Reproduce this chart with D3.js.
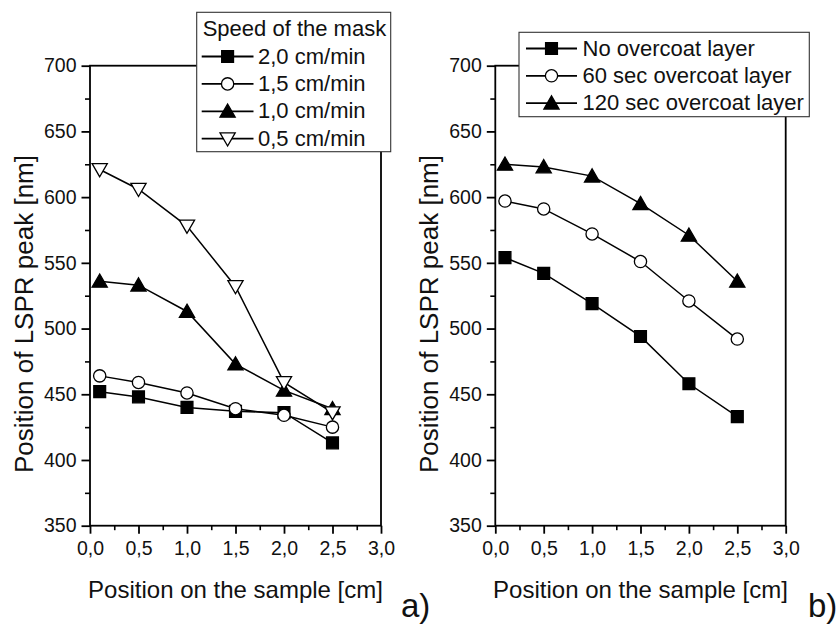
<!DOCTYPE html>
<html>
<head>
<meta charset="utf-8">
<script src="https://cdn.jsdelivr.net/npm/d3@7/dist/d3.min.js"></script>
<style>
  html, body { margin: 0; padding: 0; background: #fff; }
  svg { display: block; font-family: "Liberation Sans", Arial, sans-serif; }
</style>
</head>
<body>
<svg id="chart" width="840" height="627"></svg>
<script>
// ---------- data ----------
const xPositions = [0.1, 0.5, 1.0, 1.5, 2.0, 2.5];
const xTicks = [0, 0.5, 1.0, 1.5, 2.0, 2.5, 3.0];
const xTickLabels = ["0,0", "0,5", "1,0", "1,5", "2,0", "2,5", "3,0"];
const yTicks = [350, 400, 450, 500, 550, 600, 650, 700];

const speedTitle = "Speed of the mask";
const speedLabels = ["2,0 cm/min", "1,5 cm/min", "1,0 cm/min", "0,5 cm/min"];
const speed20 = [452, 448, 440, 437, 436, 413];
const speed15 = [464, 459, 451, 439, 434, 425];
const speed10 = [536, 533, 513, 473, 453, 439];
const speed05 = [621, 606, 578, 532, 459, 436];

const overcoatLabels = ["No overcoat layer", "60 sec overcoat layer", "120 sec overcoat layer"];
const overcoatNone = [554, 542, 519, 494, 458, 433];
const overcoat60 = [597, 591, 572, 551, 521, 492];
const overcoat120 = [625, 623, 616, 595, 571, 536];

const xTitle = "Position on the sample [cm]";
const yTitle = "Position of LSPR peak [nm]";
const panelLabels = ["a)", "b)"];

// ---------- drawing ----------
const svg = d3.select("#chart");
const TOP = 65.7, BOTTOM = 525.7;

const markerDefs = {
  square: { type: d3.symbolSquare, size: 140, fill: "#000", rot: 0, dy: 0 },
  circle: { type: d3.symbolCircle, size: 118, fill: "#fff", rot: 0, dy: 0 },
  triUp:  { type: d3.symbolTriangle, size: 100, fill: "#000", rot: 0, dy: 1.5 },
  triDown:{ type: d3.symbolTriangle, size: 100, fill: "#fff", rot: 180, dy: -1.5 }
};

function drawMarker(g, kind, cx, cy) {
  const m = markerDefs[kind];
  g.append("path")
    .attr("d", d3.symbol().type(m.type).size(m.size)())
    .attr("transform", `translate(${cx},${cy + m.dy}) rotate(${m.rot})`)
    .attr("fill", m.fill)
    .attr("stroke", "#000")
    .attr("stroke-width", 1.3);
}

function drawPanel(opts) {
  const x = d3.scaleLinear().domain([0, 3]).range([opts.left, opts.right]);
  const y = d3.scaleLinear().domain([350, 700]).range([BOTTOM, TOP]);
  const g = svg.append("g");

  // frame
  g.append("rect")
    .attr("x", opts.left).attr("y", TOP)
    .attr("width", opts.right - opts.left).attr("height", BOTTOM - TOP)
    .attr("fill", "none").attr("stroke", "#000").attr("stroke-width", 1.8);

  // x axis
  const xAxis = d3.axisBottom(x).tickValues(xTicks)
    .tickFormat((d, i) => xTickLabels[i]).tickSize(8).tickPadding(7.5);
  const xg = g.append("g").attr("transform", `translate(0,${BOTTOM})`).call(xAxis);
  xg.select(".domain").remove();
  xg.selectAll("line").attr("stroke", "#000").attr("stroke-width", 1.8);
  xg.selectAll("text").attr("font-size", 19.5).attr("fill", "#111")
    .attr("font-family", "Liberation Sans, Arial, sans-serif");
  const xMinor = d3.axisBottom(x).tickValues(d3.range(0.25, 3, 0.5)).tickSize(4.5).tickFormat("");
  const xmg = g.append("g").attr("transform", `translate(0,${BOTTOM})`).call(xMinor);
  xmg.select(".domain").remove();
  xmg.selectAll("line").attr("stroke", "#000").attr("stroke-width", 1.6);

  // y axis
  const yAxis = d3.axisLeft(y).tickValues(yTicks).tickSize(8.5).tickPadding(5);
  const yg = g.append("g").attr("transform", `translate(${opts.left},0)`).call(yAxis);
  yg.select(".domain").remove();
  yg.selectAll("line").attr("stroke", "#000").attr("stroke-width", 1.8);
  yg.selectAll("text").attr("font-size", 19.5).attr("fill", "#111")
    .attr("font-family", "Liberation Sans, Arial, sans-serif");
  const yMinor = d3.axisLeft(y).tickValues(d3.range(375, 700, 50)).tickSize(5).tickFormat("");
  const ymg = g.append("g").attr("transform", `translate(${opts.left},0)`).call(yMinor);
  ymg.select(".domain").remove();
  ymg.selectAll("line").attr("stroke", "#000").attr("stroke-width", 1.6);

  // titles
  g.append("text")
    .attr("x", (opts.left + opts.right) / 2).attr("y", 598)
    .attr("text-anchor", "middle").attr("font-size", 24).attr("fill", "#111")
    .text(xTitle);
  g.append("text")
    .attr("transform", `translate(${opts.left - 57},314) rotate(-90)`)
    .attr("text-anchor", "middle").attr("font-size", 26).attr("fill", "#111")
    .text(yTitle);

  // series
  const line = d3.line().x((d, i) => x(xPositions[i])).y(d => y(d));
  opts.series.forEach(s => {
    g.append("path").datum(s.values)
      .attr("d", line).attr("fill", "none")
      .attr("stroke", "#000").attr("stroke-width", 1.5);
  });
  opts.series.forEach(s => {
    s.values.forEach((v, i) => drawMarker(g, s.marker, x(xPositions[i]), y(v)));
  });

  // legend
  const L = opts.legend;
  const lg = g.append("g");
  lg.append("rect")
    .attr("x", L.x).attr("y", L.y).attr("width", L.w).attr("height", L.h)
    .attr("fill", "#fff").attr("stroke", "#333").attr("stroke-width", 1.1);
  if (L.title) {
    lg.append("text").attr("x", L.x + 6).attr("y", L.titleBase)
      .attr("font-size", 22).attr("fill", "#111").text(L.title);
  }
  opts.series.forEach((s, i) => {
    const base = L.firstBase + i * L.step;
    const cy = base - 7;
    lg.append("line")
      .attr("x1", L.lineX1).attr("x2", L.lineX2).attr("y1", cy).attr("y2", cy)
      .attr("stroke", "#000").attr("stroke-width", 1.8);
    drawMarker(lg, s.marker, (L.lineX1 + L.lineX2) / 2, cy);
    lg.append("text").attr("x", L.textX).attr("y", base)
      .attr("font-size", 22).attr("fill", "#111").text(s.label);
  });

  // panel label
  svg.append("text").attr("x", opts.panelX).attr("y", 617)
    .attr("font-size", 33).attr("fill", "#111").text(opts.panelLabel);
}

drawPanel({
  left: 90, right: 381,
  series: [
    { label: speedLabels[0], values: speed20, marker: "square" },
    { label: speedLabels[1], values: speed15, marker: "circle" },
    { label: speedLabels[2], values: speed10, marker: "triUp" },
    { label: speedLabels[3], values: speed05, marker: "triDown" }
  ],
  legend: { x: 196.7, y: 12.3, w: 194, h: 139.4, title: speedTitle, titleBase: 36,
            firstBase: 63.5, step: 27.4, lineX1: 201.7, lineX2: 253.5, textX: 258 },
  panelLabel: panelLabels[0], panelX: 401
});

drawPanel({
  left: 495.3, right: 785.7,
  series: [
    { label: overcoatLabels[0], values: overcoatNone, marker: "square" },
    { label: overcoatLabels[1], values: overcoat60, marker: "circle" },
    { label: overcoatLabels[2], values: overcoat120, marker: "triUp" }
  ],
  legend: { x: 519, y: 32.3, w: 290.3, h: 84.4, title: null,
            firstBase: 55.5, step: 27.3, lineX1: 526, lineX2: 577, textX: 582.5 },
  panelLabel: panelLabels[1], panelX: 808
});
</script>
</body>
</html>
